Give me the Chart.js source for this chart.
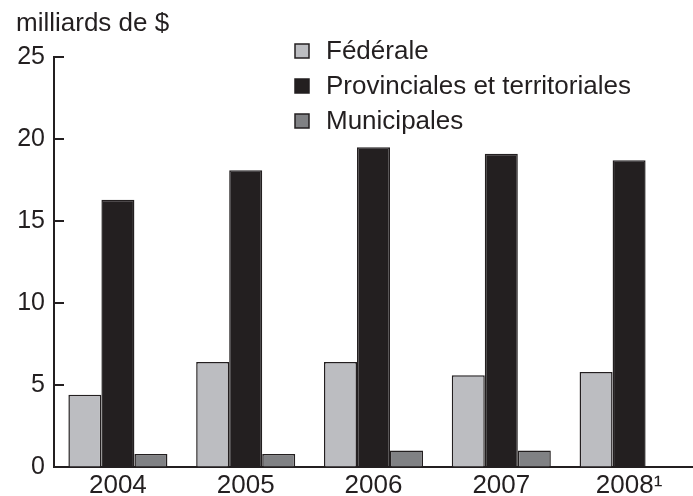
<!DOCTYPE html>
<html>
<head>
<meta charset="utf-8">
<script src="https://cdn.jsdelivr.net/npm/chart.js@4/dist/chart.umd.min.js"></script>
<style>
  html, body { margin: 0; padding: 0; background: #fff; }
  #wrap { width: 693px; height: 496px; position: relative; }
</style>
</head>
<body>
<div id="wrap"><canvas id="chart"></canvas></div>
<script>
const years = ["2004", "2005", "2006", "2007", "2008\u00b9"];
const federale = [4.4, 6.4, 6.4, 5.6, 5.8];
const provinciales = [16.3, 18.1, 19.5, 19.1, 18.7];
const municipales = [0.8, 0.8, 1.0, 1.0, null];
const seriesNames = ["Fédérale", "Provinciales et territoriales", "Municipales"];
const yTicks = [0, 5, 10, 15, 20, 25];
const unitLabel = "milliards de $";

const ink = "#231f20";
const fontFamily = "'Liberation Sans', Arial, sans-serif";

// titre, légende et petits traits de graduation vers l'intérieur
const extras = {
  id: "extras",
  afterDraw(chart) {
    const ctx = chart.ctx;
    const area = chart.chartArea;
    const y = chart.scales.y;
    ctx.save();
    ctx.strokeStyle = ink;
    ctx.lineWidth = 2;
    y.ticks.forEach((t) => {
      const py = Math.round(y.getPixelForValue(t.value));
      ctx.beginPath();
      ctx.moveTo(area.left, py);
      ctx.lineTo(area.left + 10, py);
      ctx.stroke();
    });

    ctx.fillStyle = ink;
    ctx.font = "26px " + fontFamily;
    ctx.textBaseline = "alphabetic";
    ctx.textAlign = "left";
    ctx.fillText(unitLabel, 16, 31);

    chart.data.datasets.forEach((ds, i) => {
      const cy = 51 + i * 35;
      ctx.fillStyle = ds.backgroundColor;
      ctx.fillRect(295, cy - 7, 14, 14);
      ctx.lineWidth = 1.5;
      ctx.strokeStyle = ink;
      ctx.strokeRect(295, cy - 7, 14, 14);
      ctx.fillStyle = ink;
      ctx.textBaseline = "middle";
      ctx.fillText(ds.label, 326, cy + 1);
    });
    ctx.restore();
  },
};

const mkSet = (label, data, color) => ({
  label: label,
  data: data,
  backgroundColor: color,
  borderColor: ink,
  borderWidth: 1.5,
  borderSkipped: "bottom",
  categoryPercentage: 0.775,
  barPercentage: 1.0,
});

new Chart(document.getElementById("chart"), {
  type: "bar",
  data: {
    labels: years,
    datasets: [
      mkSet(seriesNames[0], federale, "#bcbdc1"),
      mkSet(seriesNames[1], provinciales, ink),
      mkSet(seriesNames[2], municipales, "#808184"),
    ],
  },
  options: {
    responsive: true,
    maintainAspectRatio: false,
    animation: false,
    layout: { padding: { top: 57, right: 0, left: 0, bottom: 0 } },
    plugins: {
      legend: { display: false },
      tooltip: { enabled: false },
    },
    scales: {
      x: {
        afterFit: (scale) => { scale.height = 29; },
        grid: { display: true, drawOnChartArea: false, drawTicks: false },
        border: { display: true, color: ink, width: 2 },
        ticks: {
          color: ink,
          padding: 6,
          font: { family: fontFamily, size: 26, lineHeight: 1 },
        },
      },
      y: {
        min: 0,
        max: 25,
        afterFit: (scale) => { scale.width = 54; },
        afterBuildTicks: (scale) => {
          scale.ticks = yTicks.map((v) => ({ value: v }));
        },
        grid: { display: true, drawOnChartArea: false, drawTicks: false },
        border: { display: true, color: ink, width: 2 },
        ticks: {
          color: ink,
          padding: 9,
          font: { family: fontFamily, size: 25 },
        },
      },
    },
  },
  plugins: [extras],
});
</script>
</body>
</html>
